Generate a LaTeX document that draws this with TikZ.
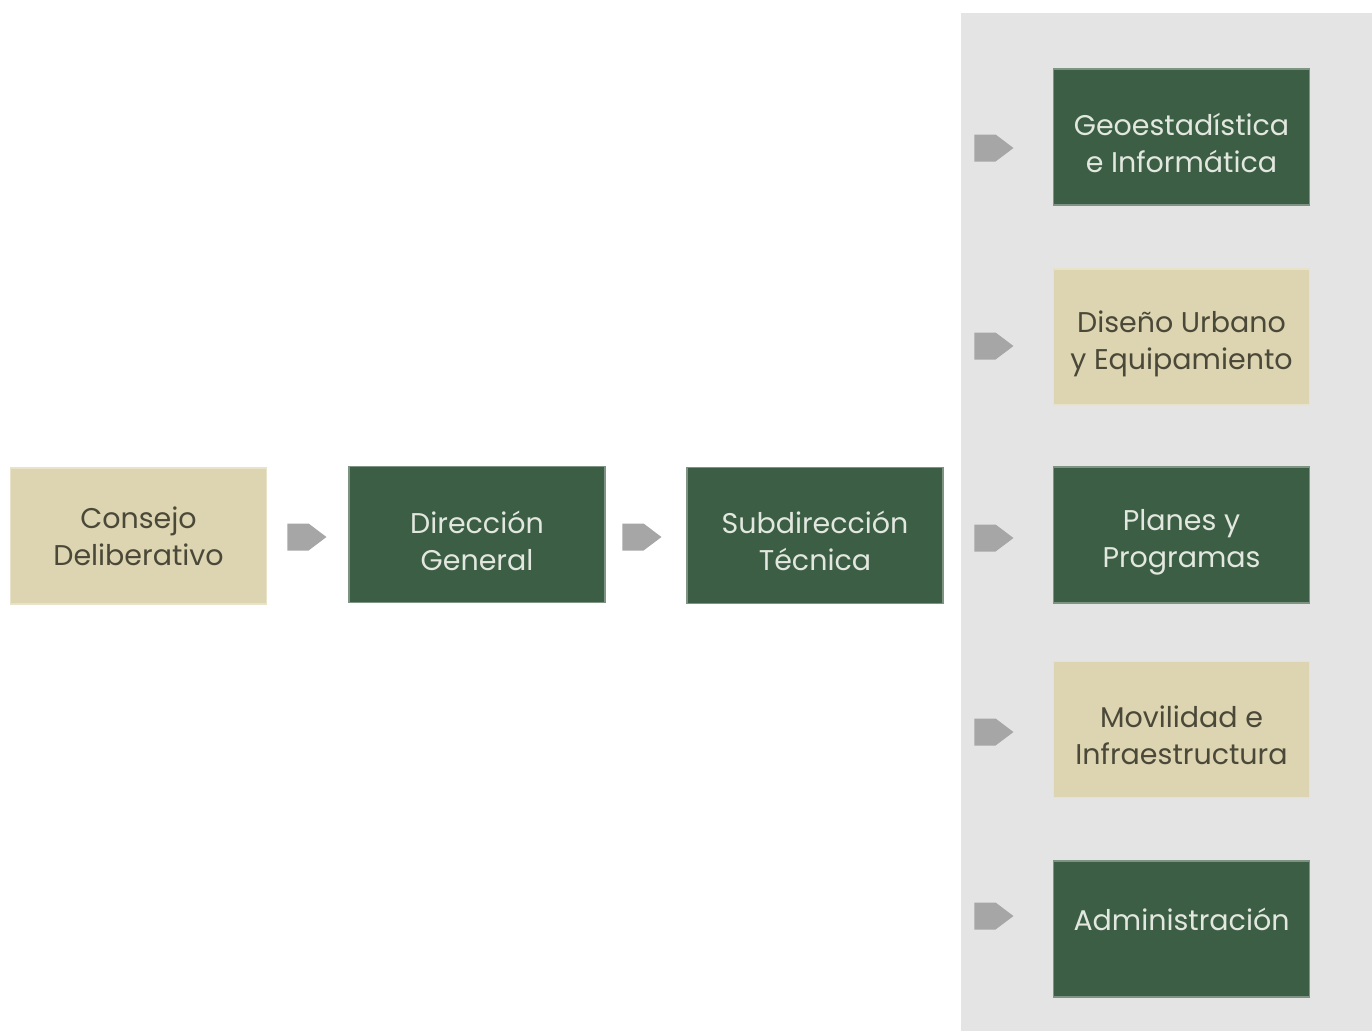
\documentclass[tikz,border=0pt]{standalone}
\usepackage{fontspec}
\setmainfont{Poppins}
\usetikzlibrary{shapes.symbols,calc}
\definecolor{dgreen}{HTML}{3B5E45}
\definecolor{dgreenedge}{HTML}{7E9483}
\definecolor{tan}{HTML}{DDD5B1}
\definecolor{tanedge}{HTML}{E8E2C8}
\definecolor{panel}{HTML}{E4E4E4}
\definecolor{arrowgray}{HTML}{A6A6A6}
\definecolor{lighttext}{HTML}{E2E8DF}
\definecolor{darktext}{HTML}{4A4838}
\tikzset{
  box/.style={rectangle, minimum width=256pt, minimum height=136pt, inner sep=0pt,
    line width=1.5pt},
  boxtext/.style={align=center, font=\fontsize{28.5}{37}\selectfont, inner sep=0pt},
  greenbox/.style={box, fill=dgreen, draw=dgreenedge,
    label={[boxtext, text=lighttext, yshift=#1]center:{\boxlabel}}},
  tanbox/.style={box, fill=tan, draw=tanedge,
    label={[boxtext, text=darktext, yshift=#1]center:{\boxlabel}}},
  pointer/.style={signal, signal to=east, signal pointer angle=74, fill=arrowgray,
    draw=none, minimum width=39pt, minimum height=27pt, inner sep=0pt}
}
\newcommand\boxlabel{}
\newcommand\putbox[5]{\renewcommand\boxlabel{#5}\node[#1=#4] (#2) at #3 {};}
\begin{document}
\begin{tikzpicture}[x=1pt,y=-1pt]
\useasboundingbox (0,0) rectangle (1372,1031);
\fill[white] (0,0) rectangle (1372,1031);
\fill[panel] (961,13) rectangle (1372,1031);
\putbox{tanbox}{consejo}{(138.5,536)}{0pt}{Consejo\\Deliberativo}
\putbox{greenbox}{direccion}{(477,534.5)}{-6pt}{Dirección\\General}
\putbox{greenbox}{subdir}{(815,535.5)}{-5pt}{Subdirección\\Técnica}
\putbox{greenbox}{geo}{(1181.5,137)}{-6pt}{Geoestadística\\e Informática}
\putbox{tanbox}{diseno}{(1181.5,337)}{-7pt}{Diseño Urbano\\y Equipamiento}
\putbox{greenbox}{planes}{(1181.5,535)}{-7pt}{Planes y\\Programas}
\putbox{tanbox}{movilidad}{(1181.5,729.5)}{-6pt}{Movilidad e\\Infraestructura}
\putbox{greenbox}{admin}{(1181.5,929)}{10pt}{Administración}
\node[pointer] (a1) at (298,537) {};
\node[pointer] (a2) at (633,537) {};
\node[pointer] (a3) at (985,148) {};
\node[pointer] (a4) at (985,346) {};
\node[pointer] (a5) at (985,538) {};
\node[pointer] (a6) at (985,732) {};
\node[pointer] (a7) at (985,916) {};
\end{tikzpicture}
\end{document}
